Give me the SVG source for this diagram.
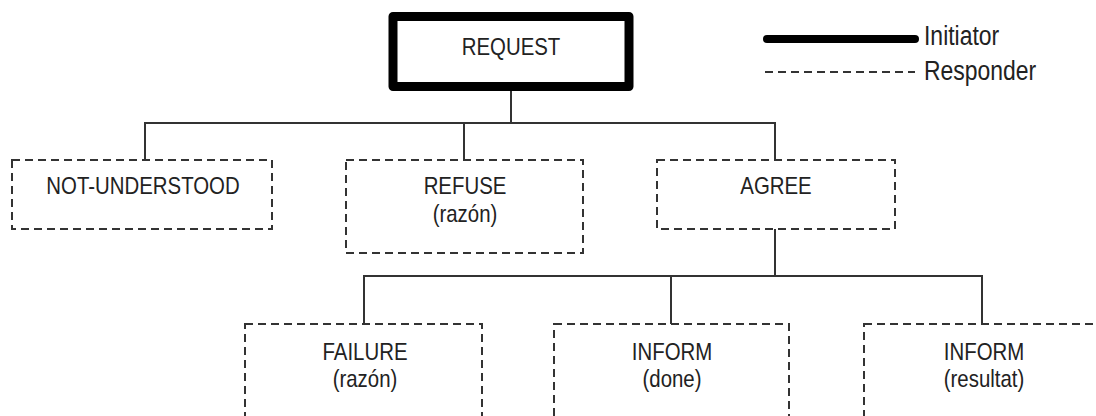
<svg xmlns="http://www.w3.org/2000/svg" width="1096" height="416" viewBox="0 0 1096 416">
<style>
.t{font-family:"Liberation Sans",Arial,sans-serif;font-size:24px;fill:#222;text-anchor:middle}
.lg{font-family:"Liberation Sans",Arial,sans-serif;font-size:27px;fill:#222}
.resp{fill:none;stroke:#333;stroke-width:2;stroke-dasharray:8 5}
.conn{fill:none;stroke:#333;stroke-width:2}
</style>
<rect width="1096" height="416" fill="#fff"/>
<g id="connectors">
<path class="conn" d="M511 91V123M145 160V123H775V160M464 123V160"/>
<path class="conn" d="M775 229V276M364 324V276H982V324M671 276V324"/>
</g>
<g id="legend">
<line x1="767" y1="39" x2="915" y2="39" stroke="#000" stroke-width="8" stroke-linecap="round"/>
<line class="resp" x1="765" y1="72" x2="915" y2="72"/>
<text class="lg" transform="translate(924,45) scale(0.85,1)">Initiator</text>
<text class="lg" transform="translate(924,80) scale(0.85,1)">Responder</text>
</g>
<g id="request">
<rect x="393" y="16.5" width="236" height="70" fill="none" stroke="#000" stroke-width="9" stroke-linejoin="round"/>
<text class="t" transform="translate(511,55) scale(0.85,1)">REQUEST</text>
</g>
<g id="not-understood">
<rect class="resp" x="12" y="160" width="260" height="69"/>
<text class="t" transform="translate(143,194) scale(0.85,1)">NOT-UNDERSTOOD</text>
</g>
<g id="refuse">
<rect class="resp" x="346" y="160" width="237" height="93"/>
<text class="t" transform="translate(465,194) scale(0.85,1)">REFUSE</text>
<text class="t" transform="translate(465,222) scale(0.85,1)">(razón)</text>
</g>
<g id="agree">
<rect class="resp" x="657" y="160" width="238" height="69"/>
<text class="t" transform="translate(776,194) scale(0.85,1)">AGREE</text>
</g>
<g id="failure">
<rect class="resp" x="245" y="324" width="237" height="110"/>
<text class="t" transform="translate(365,360) scale(0.85,1)">FAILURE</text>
<text class="t" transform="translate(365,387) scale(0.85,1)">(razón)</text>
</g>
<g id="inform-done">
<rect class="resp" x="554" y="324" width="235" height="110"/>
<text class="t" transform="translate(672,360) scale(0.85,1)">INFORM</text>
<text class="t" transform="translate(672,387) scale(0.85,1)">(done)</text>
</g>
<g id="inform-resultat">
<rect class="resp" x="864" y="324" width="236" height="110"/>
<text class="t" transform="translate(984,360) scale(0.85,1)">INFORM</text>
<text class="t" transform="translate(984,387) scale(0.85,1)">(resultat)</text>
</g>
</svg>
